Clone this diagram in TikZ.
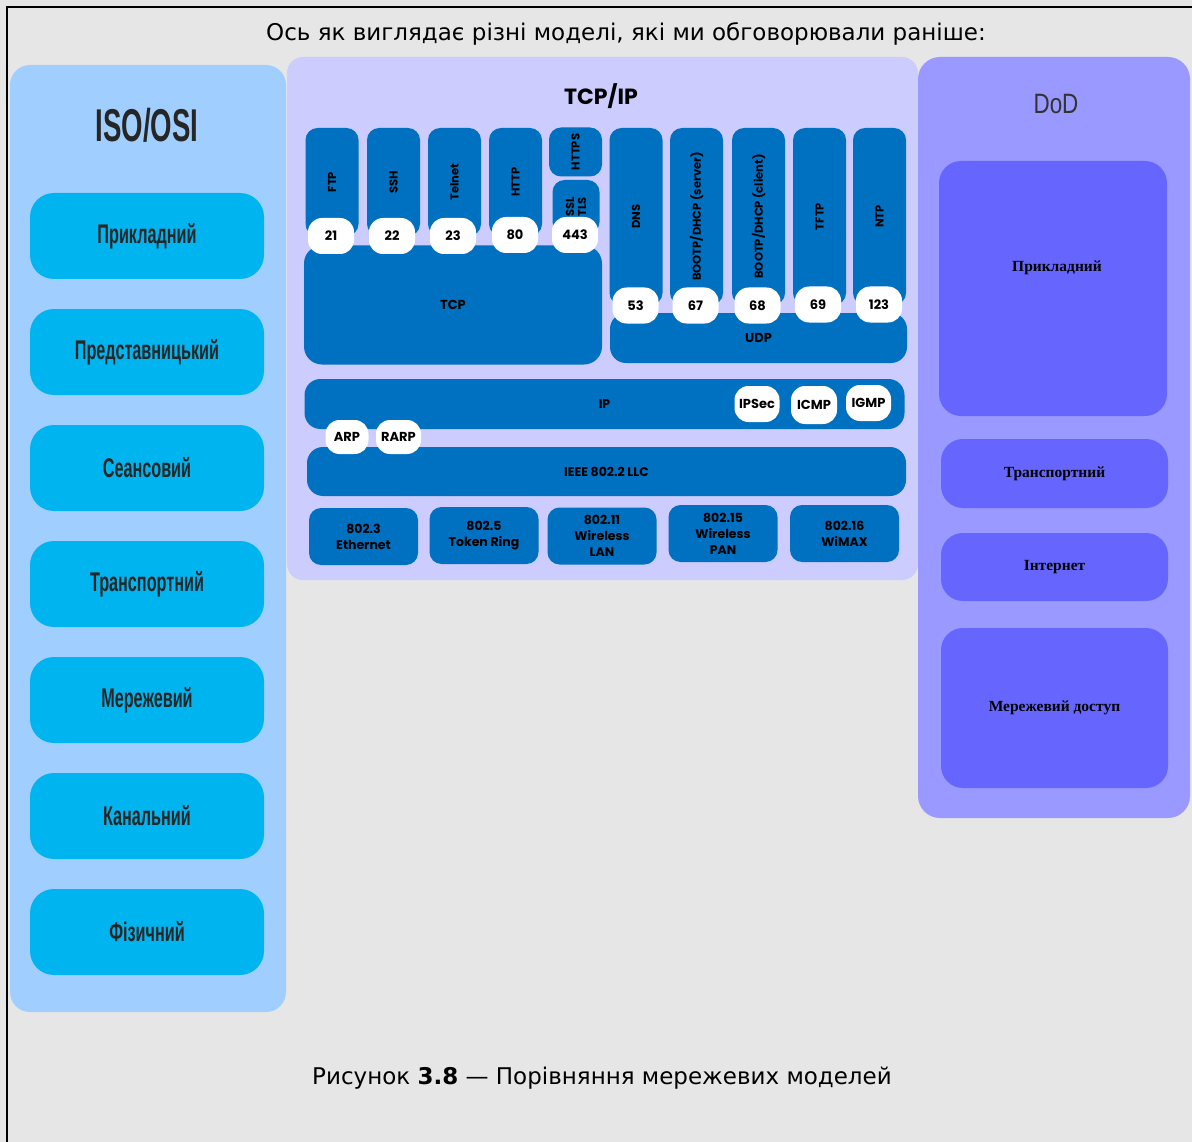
\documentclass[tikz,border=0pt]{standalone}
\usepackage{fontspec}
\setmainfont{DejaVu Sans}
\newfontfamily\osifont[FakeStretch=0.6]{Liberation Sans}
\newfontfamily\dodtitlefont[FakeStretch=0.8]{Liberation Sans}
\newfontfamily\tcpfont{Poppins}
\newfontfamily\dodfont{Liberation Serif}
\usepackage{xcolor}
\usepackage{tikz}
\usetikzlibrary{positioning}
\definecolor{pagegray}{HTML}{E6E6E6}
\definecolor{isoblue}{HTML}{A0CFFF}
\definecolor{osicyan}{HTML}{00B4F0}
\definecolor{tcplav}{HTML}{CCCCFF}
\definecolor{tcpblue}{HTML}{0070C0}
\definecolor{dodlav}{HTML}{9999FF}
\definecolor{dodblue}{HTML}{6666FF}
\tikzstyle{osibox}=[fill=osicyan, rounded corners=24pt, minimum width=234pt,
minimum height=86pt, inner sep=0pt, text=black!85,
font=\osifont\bfseries\fontsize{27}{29}\selectfont]
\tikzstyle{appbox}=[fill=tcpblue, rounded corners=12pt, inner sep=0pt,
font=\tcpfont\bfseries\fontsize{11.5}{12}\selectfont]
\tikzstyle{bubble}=[fill=white, rounded corners=14pt, minimum width=46pt,
minimum height=36pt, inner sep=0pt, font=\tcpfont\bfseries\fontsize{13}{14}\selectfont]
\tikzstyle{dodbox}=[fill=dodblue, rounded corners=22pt, minimum width=227pt,
inner sep=0pt, font=\dodfont\bfseries\fontsize{15.5}{18}\selectfont]

\begin{document}
\begin{tikzpicture}[x=1pt,y=-1pt]
\useasboundingbox (0,0) rectangle (1192,1142);
\fill[pagegray] (0,0) rectangle (1192,1142);
\draw[line width=1.5pt] (7,1142) -- (7,7) -- (1192,7);
\node[font=\fontsize{23}{26}\selectfont] (heading) at (626,34) {Ось як виглядає різні моделі, які ми обговорювали раніше:};

% ISO/OSI
\fill[isoblue, rounded corners=20pt] (10,65) rectangle (286,1012);
\node[font=\osifont\bfseries\fontsize{46}{48}\selectfont, text=black!85] (isotitle) at (147,125) {ISO/OSI};
\foreach \layer [count=\i] in {Прикладний, Представницький, Сеансовий, Транспортний, Мережевий, Канальний, Фізичний}
  \node[osibox] (osi\i) at (147,{236+116*(\i-1)}) {\layer};

% TCP/IP
\fill[tcplav, rounded corners=16pt] (287,57) rectangle (918,580);
\node[font=\tcpfont\bfseries\fontsize{22}{24}\selectfont] (tcptitle) at (601,96) {TCP/IP};
\foreach \x/\proto/\port in {332/FTP/21, 393.5/SSH/22, 454.5/Telnet/23, 515.5/HTTP/80}
  \node[appbox, rotate=90, minimum width=108pt, minimum height=53pt] (app\port) at (\x,182) {\proto};
\node[appbox, rotate=90, minimum width=49pt, minimum height=53pt] (apphttps) at (575.5,152) {HTTPS};
\node[appbox, rotate=90, minimum width=54pt, minimum height=47pt, align=center] (appssl) at (576,207) {SSL\\TLS};
\foreach \x/\proto/\port in {636/DNS/53, 696.5/{BOOTP/DHCP (server)}/67, 758.5/{BOOTP/DHCP (client)}/68, 819.5/TFTP/69, 879.5/NTP/123}
  \node[appbox, rotate=90, minimum width=177pt, minimum height=53pt] (app\port) at (\x,216.5) {\proto};
\node[appbox, rounded corners=18pt, minimum width=298pt, minimum height=119pt, font=\tcpfont\bfseries\fontsize{13}{14}\selectfont] (tcp) at (453,305) {TCP};
\node[appbox, rounded corners=16pt, minimum width=297pt, minimum height=50pt, font=\tcpfont\bfseries\fontsize{13}{14}\selectfont] (udp) at (758.5,338) {UDP};
\foreach \x/\y/\port in {331/236/21, 392/236/22, 453/236/23, 515/235/80, 575/235/443, 635.5/305.5/53, 695.5/305.5/67, 757.5/305.5/68, 818/304.5/69, 879/304.5/123}
  \node[bubble] (port\port) at (\x,\y) {\port};

% network and link
\node[appbox, rounded corners=16pt, minimum width=600pt, minimum height=50pt, font=\tcpfont\bfseries\fontsize{12.5}{14}\selectfont] (ip) at (604.5,404) {IP};
\node[bubble, minimum width=45pt] (ipsec) at (757,404) {IPSec};
\node[bubble, minimum height=38pt] (icmp) at (814,405) {ICMP};
\node[bubble, minimum width=45pt] (igmp) at (868.5,403) {IGMP};
\node[appbox, rounded corners=16pt, minimum width=599pt, minimum height=49pt, font=\tcpfont\bfseries\fontsize{12.5}{14}\selectfont] (llc) at (606.5,471.5) {IEEE 802.2 LLC};
\node[bubble, minimum width=43pt, minimum height=34pt] (arp) at (347,437) {ARP};
\node[bubble, minimum width=45pt, minimum height=34pt] (rarp) at (398.5,437) {RARP};
\foreach \x/\y/\txt [count=\i] in {363.5/536.5/{802.3\\Ethernet}, 484/535.5/{802.5\\Token Ring}, 602/536/{802.11\\Wireless\\LAN}, 723/533.5/{802.15\\Wireless\\PAN}, 844.5/533.5/{802.16\\WiMAX}}
  \node[appbox, minimum width=109pt, minimum height=57pt, align=center, font=\tcpfont\bfseries\fontsize{12.5}{16}\selectfont] (phy\i) at (\x,\y) {\txt};

% DoD
\fill[dodlav, rounded corners=22pt] (918,57) rectangle (1190,818);
\node[font=\dodtitlefont\fontsize{28}{30}\selectfont, text=black!80] (dodtitle) at (1056,104) {DoD};
\node[dodbox, minimum width=228pt, minimum height=255pt] (dodapp) at (1053,288.5) {};
\node[font=\dodfont\bfseries\fontsize{15.5}{18}\selectfont] (dodapptext) at (1057,268) {Прикладний};
\node[dodbox, minimum height=69pt, text width=213pt, align=center] (dodtrans) at (1054.5,473.5) {Транспортний};
\node[dodbox, minimum height=68pt, text width=213pt, align=center] (dodnet) at (1054.5,567) {Інтернет};
\node[dodbox, minimum height=160pt] (dodlink) at (1054.5,708) {Мережевий доступ};

\node[font=\fontsize{23}{26}\selectfont] (caption) at (602,1078) {Рисунок \textbf{3.8} — Порівняння мережевих моделей};
\end{tikzpicture}
\end{document}
